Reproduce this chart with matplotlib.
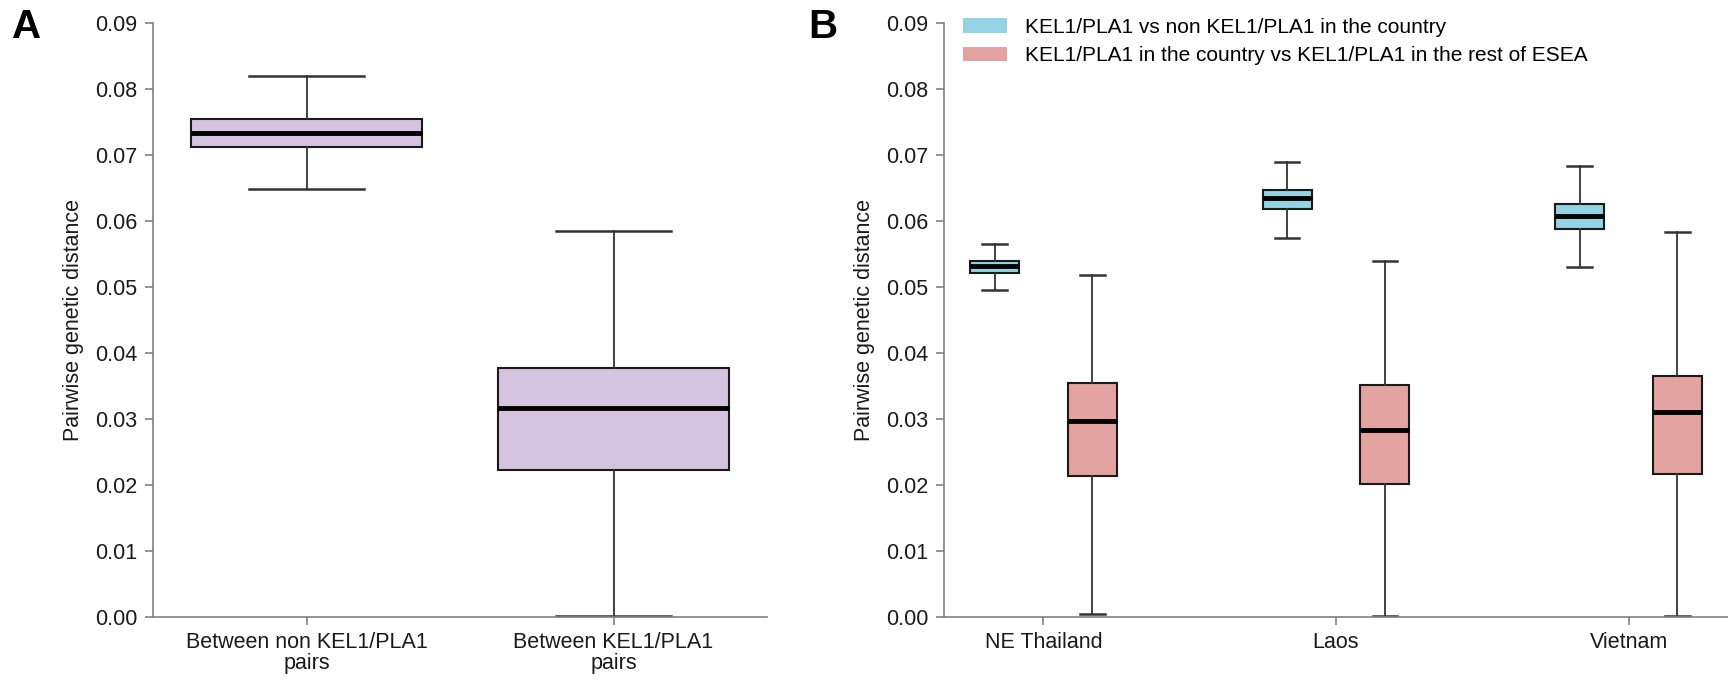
import matplotlib
matplotlib.use("Agg")
import matplotlib.pyplot as plt
from matplotlib.patches import Patch

plt.rcParams['font.family'] = ['Liberation Sans', 'DejaVu Sans']

# panel A data
groups_a = ["Between non KEL1/PLA1\npairs", "Between KEL1/PLA1\npairs"]
a_whislo = [0.0649, 0.0001]
a_q1 = [0.0712, 0.0223]
a_med = [0.0734, 0.0316]
a_q3 = [0.0755, 0.0378]
a_whishi = [0.0819, 0.0585]

# panel B data
countries = ["NE Thailand", "Laos", "Vietnam"]
blue_whislo = [0.0495, 0.0574, 0.0531]
blue_q1 = [0.0521, 0.0618, 0.0588]
blue_med = [0.0532, 0.0635, 0.0607]
blue_q3 = [0.0540, 0.0647, 0.0626]
blue_whishi = [0.0565, 0.0690, 0.0684]

pink_whislo = [0.0004, 0.0002, 0.0001]
pink_q1 = [0.0214, 0.0202, 0.0216]
pink_med = [0.0297, 0.0283, 0.0310]
pink_q3 = [0.0355, 0.0351, 0.0365]
pink_whishi = [0.0518, 0.0539, 0.0584]

legend_labels = ["KEL1/PLA1 vs non KEL1/PLA1 in the country",
                 "KEL1/PLA1 in the country vs KEL1/PLA1 in the rest of ESEA"]

purple = "#d4c4e0"
blue = "#93d3e3"
pink = "#e3a3a0"


def stats(lo, q1, med, q3, hi):
    return [dict(whislo=lo[i], q1=q1[i], med=med[i], q3=q3[i], whishi=hi[i], fliers=[])
            for i in range(len(med))]


def draw(ax, st, pos, width, color):
    ax.bxp(st, positions=pos, widths=width, capwidths=width / 2,
           showfliers=False, patch_artist=True,
           boxprops=dict(facecolor=color, edgecolor="#1a1a1a", linewidth=1.5),
           medianprops=dict(color="black", linewidth=3.5),
           whiskerprops=dict(color="#333333", linewidth=1.3),
           capprops=dict(color="#333333", linewidth=1.8))


def style(ax):
    for s in ["top", "right"]:
        ax.spines[s].set_visible(False)
    for s in ["left", "bottom"]:
        ax.spines[s].set_color("#808080")
        ax.spines[s].set_linewidth(1.2)
    ax.tick_params(axis="both", colors="#808080", labelcolor="#1a1a1a",
                   length=6, width=1.2, labelsize=15.5, pad=5)
    ax.set_ylim(0, 0.09)
    ax.set_yticks([i / 100 for i in range(10)])
    ax.set_yticklabels(["%.2f" % (i / 100) for i in range(10)])
    ax.set_ylabel("Pairwise genetic distance", fontsize=15.5, color="#1a1a1a", labelpad=8)


fig = plt.figure(figsize=(17.28, 6.81), dpi=100)

axA = fig.add_axes([153 / 1728, 64 / 681, 614 / 1728, 594 / 681])
draw(axA, stats(a_whislo, a_q1, a_med, a_q3, a_whishi), [1, 2], 0.75, purple)
style(axA)
axA.set_xlim(0.5, 2.5)
axA.set_xticks([1, 2])
axA.set_xticklabels(groups_a, linespacing=1.0)

axB = fig.add_axes([944 / 1728, 64 / 681, 784 / 1728, 594 / 681])
pos = [1, 2, 3]
draw(axB, stats(blue_whislo, blue_q1, blue_med, blue_q3, blue_whishi),
     [p - 0.167 for p in pos], 0.167, blue)
draw(axB, stats(pink_whislo, pink_q1, pink_med, pink_q3, pink_whishi),
     [p + 0.167 for p in pos], 0.167, pink)
style(axB)
axB.set_xlim(0.66, 3.34)
axB.set_xticks(pos)
axB.set_xticklabels(countries)

handles = [Patch(facecolor=blue, edgecolor="none"), Patch(facecolor=pink, edgecolor="none")]
axB.legend(handles, legend_labels, loc="upper left", bbox_to_anchor=(0.0, 1.04),
           frameon=False, fontsize=15, handlelength=2.1, handleheight=0.7,
           handletextpad=0.9, labelspacing=0.45)

fig.text(12 / 1728, 1 - 8 / 681, "A", fontsize=29, fontweight="bold", va="top", ha="left")
fig.text(808 / 1728, 1 - 8 / 681, "B", fontsize=29, fontweight="bold", va="top", ha="left")

fig.savefig("out.png", dpi=100)
